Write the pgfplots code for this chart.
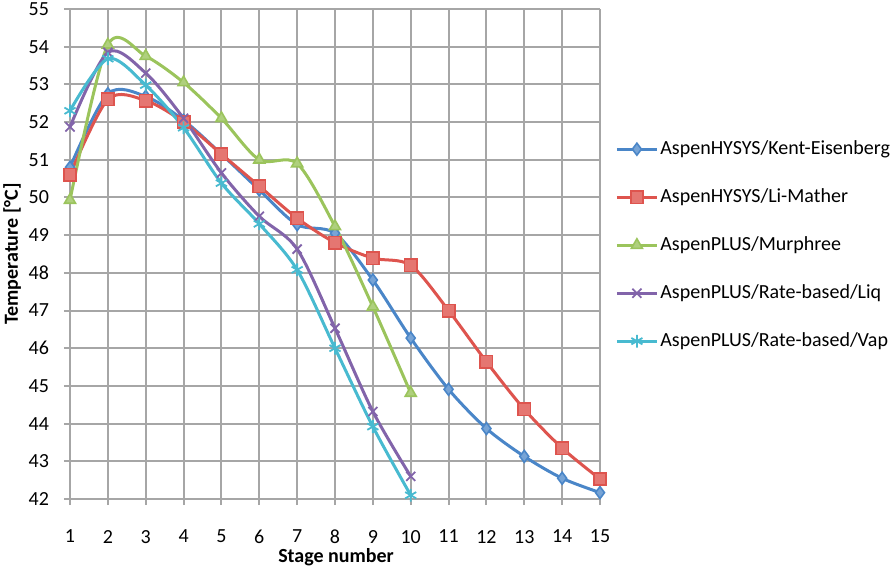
\documentclass[border=0pt]{standalone}
\usepackage{pgfplots}
\pgfplotsset{compat=1.18}
\usepackage{fontspec}
\setmainfont{Carlito}
\definecolor{cblue}{RGB}{74,134,200}
\definecolor{cred}{RGB}{222,84,78}
\definecolor{cgreen}{RGB}{155,196,92}
\definecolor{cpurple}{RGB}{130,100,170}
\definecolor{ccyan}{RGB}{72,186,208}
\definecolor{cgrid}{RGB}{166,166,166}
\begin{document}
\begin{tikzpicture}
\path[use as bounding box] (-35pt,-37.5pt) rectangle (412.5pt,249.5pt);
\begin{axis}[
  at={(0pt,0pt)}, anchor=south west,
  scale only axis, width=265pt, height=245pt,
  xmin=1, xmax=15, ymin=42, ymax=55,
  xtick={1,...,15}, ytick={42,...,55},
  grid=major,
  grid style={cgrid, line width=1pt},
  axis line style={draw=none},
  tick align=outside, major tick length=3pt,
  tick style={cgrid, line width=1pt},
  xtick pos=left, ytick pos=left,
  /pgf/number format/assume math mode=true,
  ticklabel style={font=\fontsize{10}{12}\selectfont, text=black},
  xticklabel style={yshift=-9pt},
  yticklabel style={xshift=-4pt},
  xlabel={\bfseries Stage number},
  ylabel={\bfseries Temperature [°C]},
  label style={font=\fontsize{10}{12}\selectfont},
  xlabel style={at={(axis description cs:0.502,-0.118)}, anchor=center},
  ylabel style={at={(axis description cs:-0.109,0.5)}, anchor=center},
  legend style={draw=none, fill=none, at={(1.0283,0.518)}, anchor=west,
    inner sep=0pt, font=\fontsize{10}{12}\selectfont,
    nodes={inner sep=1pt, text height=7pt, text depth=2pt},
    row sep=13pt},
  legend cell align=left,
  legend image code/.code={%
    \draw[mark repeat=2, mark phase=2] plot coordinates {(0pt,0pt) (10pt,0pt) (20pt,0pt)};},
  every axis plot/.append style={line width=1.5pt, smooth},
  clip=false,
]
\addplot[cblue, mark=diamond*, mark size=3pt, mark options={fill=cblue!75!white, draw=cblue, line width=0.8pt}] coordinates {
(1,50.8) (2,52.75) (3,52.68) (4,52.05) (5,51.15) (6,50.2) (7,49.28) (8,49.05) (9,47.81) (10,46.27) (11,44.91) (12,43.87) (13,43.13) (14,42.55) (15,42.17)};
\addlegendentry{AspenHYSYS/Kent-Eisenberg}
\addplot[cred, mark=square*, mark size=3.1pt, mark options={fill=cred!80!white, draw=cred, line width=0.8pt}] coordinates {
(1,50.6) (2,52.6) (3,52.57) (4,52.0) (5,51.15) (6,50.3) (7,49.45) (8,48.8) (9,48.39) (10,48.2) (11,47.0) (12,45.64) (13,44.38) (14,43.35) (15,42.53)};
\addlegendentry{AspenHYSYS/Li-Mather}
\addplot[cgreen, mark=triangle*, mark size=3.2pt, mark options={fill=cgreen!80!white, draw=cgreen, line width=0.8pt}] coordinates {
(1,49.93) (2,54.05) (3,53.75) (4,53.05) (5,52.1) (6,51.0) (7,50.9) (8,49.23) (9,47.1) (10,44.81)};
\addlegendentry{AspenPLUS/Murphree}
\addplot[cpurple, mark=x, mark size=3.2pt, mark options={draw=cpurple, line width=0.9pt}] coordinates {
(1,51.87) (2,53.85) (3,53.3) (4,52.1) (5,50.65) (6,49.5) (7,48.63) (8,46.53) (9,44.32) (10,42.6)};
\addlegendentry{AspenPLUS/Rate-based/Liq}
\addplot[ccyan, mark=asterisk, mark size=3.2pt, mark options={draw=ccyan, line width=0.9pt}] coordinates {
(1,52.3) (2,53.68) (3,52.98) (4,51.85) (5,50.38) (6,49.3) (7,48.08) (8,46.0) (9,43.92) (10,42.1)};
\addlegendentry{AspenPLUS/Rate-based/Vap}
\end{axis}
\end{tikzpicture}
\end{document}
